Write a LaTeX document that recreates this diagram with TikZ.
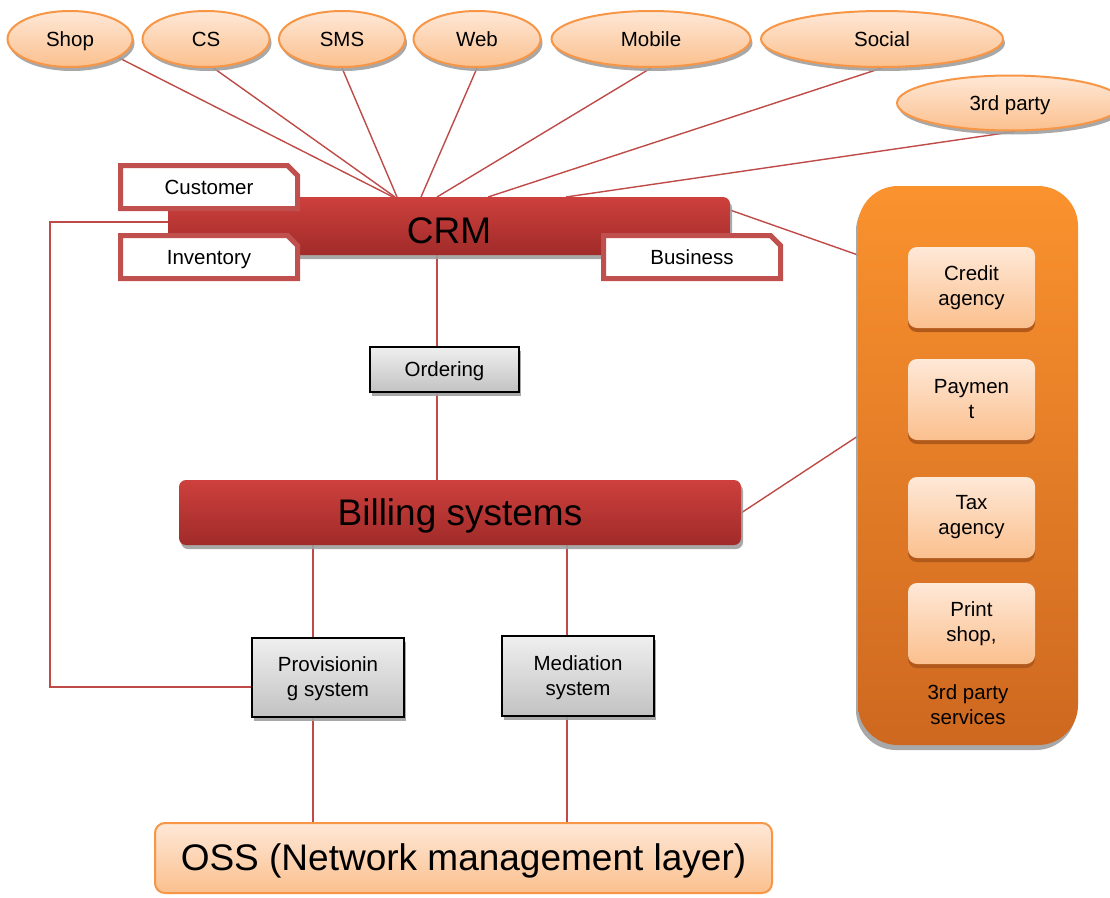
\documentclass[tikz,border=0pt]{standalone}
\usepackage{fontspec}
\setmainfont{Liberation Sans}
\usetikzlibrary{shapes.geometric,shapes.misc,shadows}

\definecolor{peachT}{HTML}{FEE8D7}
\definecolor{peachB}{HTML}{FBC08E}
\definecolor{orangeLine}{HTML}{F79646}
\definecolor{redT}{HTML}{CD403D}
\definecolor{redB}{HTML}{A02B29}
\definecolor{linkRed}{HTML}{BE4B48}
\definecolor{tagRed}{HTML}{C0504D}
\definecolor{boxT}{HTML}{EFEFEF}
\definecolor{boxB}{HTML}{C2C2C2}
\definecolor{contT}{HTML}{FA922E}
\definecolor{contB}{HTML}{CE6820}
\definecolor{svcEdge}{HTML}{B0591A}
\definecolor{shadowGray}{HTML}{9E9E9E}

\pgfdeclarelayer{wires}
\pgfsetlayers{wires,main}

\begin{document}
\begin{tikzpicture}[x=1pt,y=-1pt,
  small/.style={font=\fontsize{20.5}{25}\selectfont},
  big/.style={font=\fontsize{37}{44}\selectfont},
  smallline/.style={text height=14.7pt,text depth=0pt},
  bigline/.style={text height=26.5pt,text depth=0pt},
  softshadow/.style={drop shadow={shadow xshift=2pt,shadow yshift=-4pt,fill=shadowGray,opacity=0.9}},
  oval/.style={ellipse,draw=orangeLine,line width=2pt,top color=peachT,bottom color=peachB,
    inner sep=0pt,minimum height=56pt,small,smallline,softshadow},
  bar/.style={rectangle,rounded corners=7pt,top color=redT,bottom color=redB,
    inner sep=0pt,big,softshadow},
  tagbox/.style={chamfered rectangle,chamfered rectangle corners=north east,
    chamfered rectangle xsep=5pt,chamfered rectangle ysep=5pt,
    draw=tagRed,line width=5pt,fill=white,inner sep=0pt,
    minimum width=177pt,minimum height=43pt,small,smallline},
  sysbox/.style={rectangle,draw=black,line width=1.8pt,top color=boxT,bottom color=boxB,
    inner sep=0pt,align=center,small,softshadow},
  svcbox/.style={rectangle,rounded corners=9pt,top color=peachT,bottom color=peachB,
    inner sep=0pt,minimum width=127pt,minimum height=81pt,align=center,small,
    drop shadow={shadow xshift=0pt,shadow yshift=-4pt,fill=svcEdge,opacity=1}},
  link/.style={draw=linkRed,line width=1.4pt}
]
\useasboundingbox (0,0) rectangle (1110,897);

% ---- third-party services container ----
\node[rectangle,rounded corners=40pt,top color=contT,bottom color=contB,
  minimum width=220pt,minimum height=559pt,inner sep=0pt,
  drop shadow={shadow xshift=-2pt,shadow yshift=-5pt,fill=shadowGray,opacity=0.9}]
  (cont) at (968,465.5) {};

% ---- channel ovals ----
\node[oval,minimum width=125pt] (shop)   at (70,39)   {Shop};
\node[oval,minimum width=127pt] (cs)     at (206,39)  {CS};
\node[oval,minimum width=126pt] (sms)    at (342,39)  {SMS};
\node[oval,minimum width=127pt] (web)    at (477,39)  {Web};
\node[oval,minimum width=199pt] (mobile) at (651,39)  {Mobile};
\node[oval,minimum width=242pt] (social) at (882,39)  {Social};
\node[oval,minimum width=226pt,minimum height=55pt] (party) at (1010,103) {3rd party};

% ---- main systems ----
\node[bar,minimum width=562pt,minimum height=58pt,text height=34.5pt,text depth=0pt] (crm) at (449,226) {CRM};
\node[bar,minimum width=562pt,minimum height=65pt,bigline] (bill) at (460,512.5) {Billing systems};

\node[sysbox,minimum width=149pt,minimum height=45pt,smallline] (order) at (444.5,369.5) {Ordering};
\node[sysbox,minimum width=152pt,minimum height=79pt] (prov) at (328,677.5) {\strut Provisionin\\g system};
\node[sysbox,minimum width=152pt,minimum height=80pt] (med) at (578,676) {\strut Mediation\\system};

\node[rectangle,rounded corners=10pt,draw=orangeLine,line width=2pt,
  top color=peachT,bottom color=peachB,minimum width=617pt,minimum height=70pt,
  inner sep=0pt,big,text height=25pt,text depth=0pt] (oss) at (463.5,858) {OSS (Network management layer)};

% ---- CRM modules ----
\node[tagbox] (cust) at (209,187) {Customer};
\node[tagbox] (inv)  at (209,257) {Inventory};
\node[tagbox] (bus)  at (692,257) {Business};

% ---- services ----
\node[svcbox] (credit) at (971.5,287.5) {Credit\\agency};
\node[svcbox] (pay)    at (971.5,399.5) {Paymen\\t};
\node[svcbox] (tax)    at (971.5,517.5) {Tax\\agency};
\node[svcbox] (print)  at (971.5,623.5) {Print\\shop,};
\node[small,align=center] (svclabel) at (968,705) {3rd party\\services};

% ---- connection points ----
\coordinate (hShop)   at (393,197);
\coordinate (hCS)     at (395,197);
\coordinate (hSMS)    at (397,197);
\coordinate (hWeb)    at (421,197);
\coordinate (hMobile) at (437,197);
\coordinate (hSocial) at (488,197);
\coordinate (hParty)  at (566,197);
\coordinate (crmR)    at (730,210);
\coordinate (contA)   at (858,255);
\coordinate (billR)   at (741,513);
\coordinate (contB)   at (858,436);
\coordinate (crmL)    at (168,222);
\coordinate (loopA)   at (50,222);
\coordinate (loopB)   at (50,687);
\coordinate (provL)   at (252,687);
\coordinate (colO)    at (437,0);
\coordinate (colP)    at (313,0);
\coordinate (colM)    at (567,0);

% ---- connectors ----
\begin{pgfonlayer}{wires}
\draw[link] (shop.-21) -- (hShop);
\draw[link] (cs.-76) -- (hCS);
\draw[link] (sms.south) -- (hSMS);
\draw[link] (web.south) -- (hWeb);
\draw[link] (mobile.south) -- (hMobile);
\draw[link] (social.south) -- (hSocial);
\draw[link] (party.-80) -- (hParty);
\draw[link] (crmR) -- (contA);
\draw[link] (billR) -- (contB);
\draw[link] (crmL) -- (loopA) -- (loopB) -- (provL);
\draw[link] (crm.south -| colO) -- (order.north -| colO);
\draw[link] (order.south -| colO) -- (bill.north -| colO);
\draw[link] (bill.south -| colP) -- (prov.north -| colP);
\draw[link] (bill.south -| colM) -- (med.north -| colM);
\draw[link] (prov.south -| colP) -- (oss.north -| colP);
\draw[link] (med.south -| colM) -- (oss.north -| colM);
\end{pgfonlayer}
\end{tikzpicture}
\end{document}
